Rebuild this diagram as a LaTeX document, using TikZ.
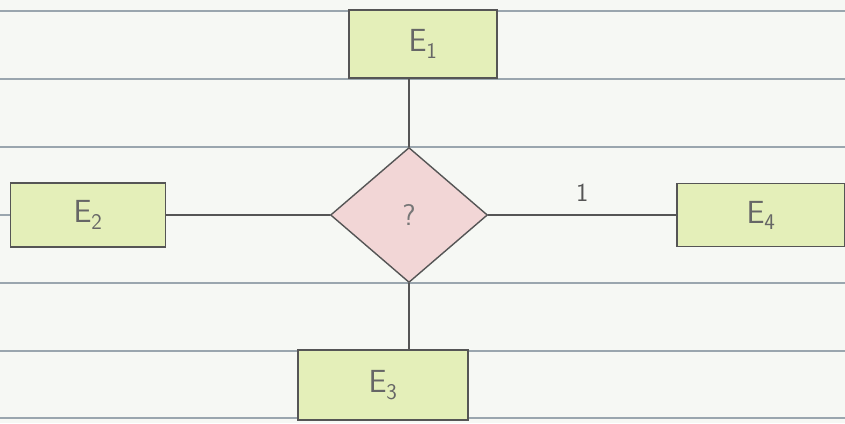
\documentclass[tikz,border=0pt]{standalone}
\usetikzlibrary{shapes.geometric}
\definecolor{paper}{HTML}{F6F8F4}
\definecolor{rule}{HTML}{9AA6AE}
\definecolor{pencil}{HTML}{555555}
\definecolor{entfill}{HTML}{E4EFB9}
\definecolor{relfill}{HTML}{F2D6D6}
\begin{document}
\begin{tikzpicture}[x=1pt,y=-1pt,
  entity/.style={draw=pencil, line width=1.6pt, fill=entfill, inner sep=0pt, font=\sffamily\fontsize{32}{34}\selectfont, text=pencil!90},
  relation/.style={diamond, draw=pencil, line width=1.4pt, fill=relfill, inner sep=0pt, minimum width=157pt, minimum height=135pt, aspect=1.16, font=\sffamily\fontsize{30}{32}\selectfont, text=pencil!80},
  link/.style={draw=pencil, line width=1.3pt},
  ruled/.style={draw=rule, line width=1.4pt}]
\fill[paper] (0,0) rectangle (845,423);
\useasboundingbox (0,0) rectangle (845,423);
\foreach \y in {11,79,147,215,283,351,418} \draw[ruled] (0,\y) -- (845,\y);
\node[entity, minimum width=148pt, minimum height=68pt] (e1) at (423,44) {E\textsubscript{1}};
\node[entity, minimum width=155pt, minimum height=64pt] (e2) at (88,215) {E\textsubscript{2}};
\node[entity, minimum width=168pt, minimum height=63pt] (e4) at (761,215) {E\textsubscript{4}};
\node[entity, minimum width=170pt, minimum height=70pt] (e3) at (383,385) {E\textsubscript{3}};
\node[relation] (r) at (409,215) {?};
\draw[link] (e1.south -| r.north) -- (r.north);
\draw[link] (e2.east) -- (r.west);
\draw[link] (r.east) -- node[above=10pt, font=\sffamily\fontsize{26}{28}\selectfont, text=pencil] {1} (e4.west);
\draw[link] (r.south) -- (e3.north -| r.south);
\end{tikzpicture}
\end{document}
